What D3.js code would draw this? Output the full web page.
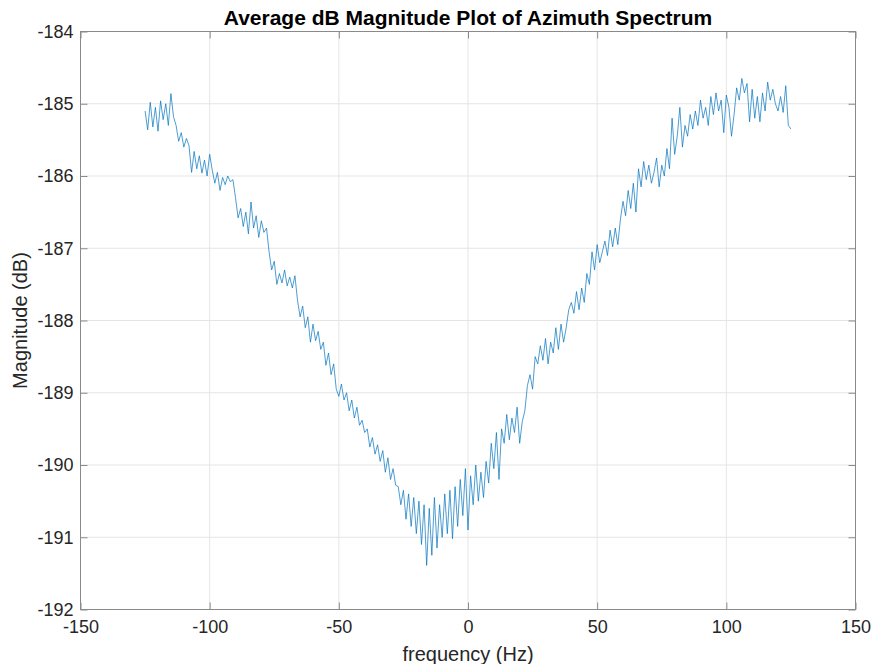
<!DOCTYPE html>
<html>
<head>
<meta charset="utf-8">
<script src="https://cdn.jsdelivr.net/npm/d3@7"></script>
<style>
  body { margin: 0; background: #fff; }
  svg { font-family: "Liberation Sans", Arial, sans-serif; }
</style>
</head>
<body>
<div id="chart"></div>
<script>
// frequency (Hz), 1 Hz steps from -125 to 125
const freqStart = -125
const freqStep = 1

// magnitude (dB), 10 values per row
const magnitude = [
  -185.10, -185.36, -184.98, -185.32, -185.05, -185.38, -184.96, -185.22, -185.00, -185.30,
  -184.86, -185.18, -185.30, -185.52, -185.40, -185.60, -185.48, -185.58, -185.95, -185.66,
  -185.90, -185.72, -185.96, -185.78, -186.00, -185.70, -185.92, -186.10, -185.95, -186.20,
  -186.02, -186.12, -186.00, -186.08, -186.05, -186.30, -186.58, -186.45, -186.70, -186.50,
  -186.80, -186.36, -186.72, -186.55, -186.85, -186.62, -186.78, -186.72, -187.05, -187.30,
  -187.18, -187.50, -187.35, -187.48, -187.30, -187.52, -187.40, -187.55, -187.38, -187.72,
  -187.95, -187.80, -188.10, -187.95, -188.30, -188.05, -188.28, -188.15, -188.40, -188.30,
  -188.62, -188.45, -188.75, -188.60, -188.95, -189.05, -188.88, -189.10, -189.00, -189.25,
  -189.10, -189.35, -189.20, -189.45, -189.38, -189.55, -189.50, -189.75, -189.62, -189.85,
  -189.72, -189.95, -189.80, -190.10, -189.90, -190.20, -190.05, -190.28, -190.30, -190.55,
  -190.35, -190.75, -190.40, -190.85, -190.45, -190.95, -190.50, -191.10, -190.55, -191.39,
  -190.60, -191.25, -190.45, -191.15, -190.55, -191.00, -190.40, -190.95, -190.35, -191.02,
  -190.30, -190.85, -190.20, -190.70, -190.05, -190.90, -190.15, -190.55, -190.00, -190.50,
  -190.10, -190.45, -189.95, -190.25, -189.70, -190.05, -189.55, -190.20, -189.50, -189.70,
  -189.30, -189.65, -189.35, -189.55, -189.20, -189.70, -189.40, -189.25, -188.90, -188.75,
  -188.95, -188.50, -188.60, -188.35, -188.55, -188.25, -188.60, -188.30, -188.45, -188.10,
  -188.40, -188.05, -188.30, -188.10, -187.85, -187.75, -187.90, -187.60, -187.85, -187.55,
  -187.75, -187.35, -187.50, -187.05, -187.30, -186.95, -187.20, -187.05, -186.90, -187.10,
  -186.75, -186.98, -186.72, -186.95, -186.60, -186.35, -186.55, -186.20, -186.45, -186.10,
  -186.50, -185.90, -186.15, -185.80, -186.05, -185.85, -186.10, -185.95, -185.75, -186.15,
  -185.85, -186.00, -185.62, -185.90, -185.20, -185.70, -185.45, -185.05, -185.60, -185.30,
  -185.45, -185.15, -185.35, -185.10, -185.30, -184.95, -185.20, -185.05, -185.30, -184.90,
  -185.15, -184.85, -185.10, -184.95, -185.40, -184.88, -185.05, -185.45, -185.15, -184.78,
  -184.95, -184.65, -184.85, -184.72, -185.25, -184.80, -185.20, -184.90, -185.25, -184.85,
  -185.10, -184.70, -184.95, -184.80, -185.00, -185.10, -184.90, -185.12, -184.75, -185.30,
  -185.35
]

const xTicks = [-150, -100, -50, 0, 50, 100, 150]
const yTicks = [-192, -191, -190, -189, -188, -187, -186, -185, -184]

const width = 873
const height = 664
const margin = {top: 31.5, right: 17.5, bottom: 54.5, left: 80.5}
const innerW = width - margin.left - margin.right
const innerH = height - margin.top - margin.bottom

const data = magnitude.map((m, i) => ({f: freqStart + i * freqStep, m}))

const svg = d3.select("#chart")
    .append("svg")
    .attr("width", width)
    .attr("height", height)

const x = d3.scaleLinear().domain([-150, 150]).range([0, innerW])
const y = d3.scaleLinear().domain([-192, -184]).range([innerH, 0])

const g = svg.append("g")
    .attr("transform", `translate(${margin.left},${margin.top})`)

// grid
g.append("g").selectAll("line")
    .data(xTicks.slice(1, -1))
    .join("line")
    .attr("x1", d => x(d)).attr("x2", d => x(d))
    .attr("y1", 0).attr("y2", innerH)
    .attr("stroke", "#e5e5e5")
g.append("g").selectAll("line")
    .data(yTicks.slice(1, -1))
    .join("line")
    .attr("y1", d => y(d)).attr("y2", d => y(d))
    .attr("x1", 0).attr("x2", innerW)
    .attr("stroke", "#e5e5e5")

// the spectrum line
g.append("path")
    .datum(data)
    .attr("fill", "none")
    .attr("stroke", "#0072BD")
    .attr("stroke-width", 0.7)
    .attr("d", d3.line().x(d => x(d.f)).y(d => y(d.m)))

// axes, ticks point inward like matlab, plain hyphen for minus
const tickLen = 7
const axisColor = "#8a8a8a"
const fmt = d => String(d)
const styleAxis = sel => {
    sel.select(".domain").remove()
    sel.selectAll(".tick line").attr("stroke", axisColor)
    sel.selectAll(".tick text")
        .attr("fill", "#262626")
        .style("font-size", "18px")
}

g.append("g")
    .attr("transform", `translate(0,${innerH})`)
    .call(d3.axisBottom(x).tickValues(xTicks).tickFormat(fmt).tickSizeInner(-tickLen).tickPadding(11))
    .call(styleAxis)
g.append("g")
    .call(d3.axisTop(x).tickValues(xTicks).tickSizeInner(-tickLen).tickFormat(""))
    .call(styleAxis)
g.append("g")
    .call(d3.axisLeft(y).tickValues(yTicks).tickFormat(fmt).tickSizeInner(-tickLen).tickPadding(7))
    .call(styleAxis)
g.append("g")
    .attr("transform", `translate(${innerW},0)`)
    .call(d3.axisRight(y).tickValues(yTicks).tickSizeInner(-tickLen).tickFormat(""))
    .call(styleAxis)

// box
g.append("rect")
    .attr("width", innerW)
    .attr("height", innerH)
    .attr("fill", "none")
    .attr("stroke", axisColor)

// labels
svg.append("text")
    .attr("x", margin.left + innerW / 2)
    .attr("y", 25)
    .attr("text-anchor", "middle")
    .style("font-size", "21px")
    .style("font-weight", "bold")
    .attr("fill", "#000")
    .text("Average dB Magnitude Plot of Azimuth Spectrum")

svg.append("text")
    .attr("x", margin.left + innerW / 2)
    .attr("y", 661)
    .attr("text-anchor", "middle")
    .style("font-size", "20px")
    .attr("fill", "#262626")
    .text("frequency (Hz)")

svg.append("text")
    .attr("transform", `translate(27,${margin.top + innerH / 2}) rotate(-90)`)
    .attr("text-anchor", "middle")
    .style("font-size", "20px")
    .attr("fill", "#262626")
    .text("Magnitude (dB)")
</script>
</body>
</html>
